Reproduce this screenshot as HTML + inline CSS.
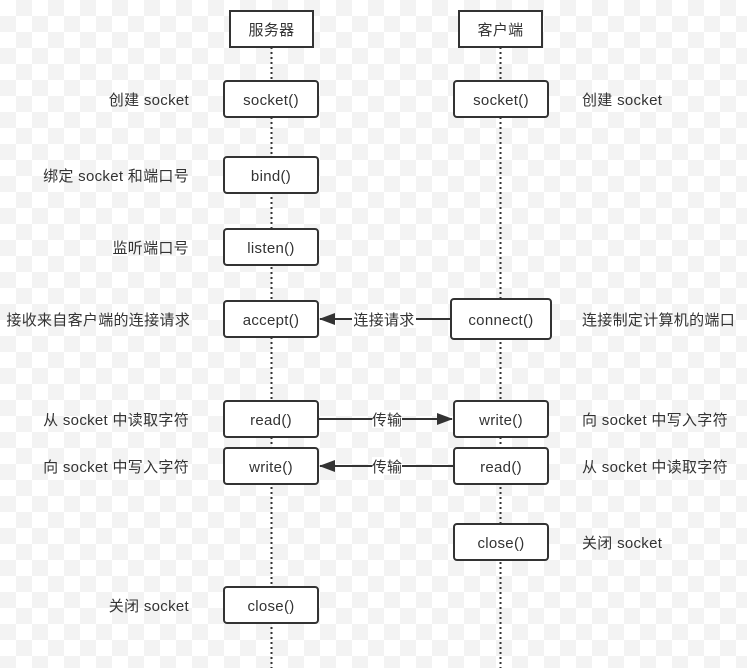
<!DOCTYPE html>
<html><head><meta charset="utf-8"><style>
html,body{margin:0;padding:0}
body{width:747px;height:668px;overflow:hidden;background-color:#fff;
background-image:linear-gradient(45deg,#f3f3f3 25%,transparent 25%,transparent 75%,#f3f3f3 75%),linear-gradient(45deg,#f3f3f3 25%,transparent 25%,transparent 75%,#f3f3f3 75%);
background-size:32px 32px;background-position:0 0,16px 16px;}
svg{position:absolute;left:0;top:0}
text{font-family:"Liberation Sans","Noto Sans CJK SC",sans-serif;font-size:15px;fill:#333;letter-spacing:0.3px}
</style></head><body>
<svg width="747" height="668" viewBox="0 0 747 668">
<defs><marker id="a" markerWidth="16" markerHeight="12" refX="15" refY="6" orient="auto" markerUnits="userSpaceOnUse"><path d="M0,0 L16,6 L0,12 Z" fill="#333"/></marker></defs>
<g stroke="#333" stroke-width="2" stroke-dasharray="2,3">
<line x1="271.5" y1="47" x2="271.5" y2="668"/>
<line x1="500.5" y1="47" x2="500.5" y2="668"/>
</g>
<g fill="#fff" stroke="#333" stroke-width="2">
<rect x="230" y="11" width="83" height="36"/>
<rect x="459" y="11" width="83" height="36"/>
<rect x="224" y="81" width="94" height="36" rx="3"/>
<rect x="454" y="81" width="94" height="36" rx="3"/>
<rect x="224" y="157" width="94" height="36" rx="3"/>
<rect x="224" y="229" width="94" height="36" rx="3"/>
<rect x="224" y="301" width="94" height="36" rx="3"/>
<rect x="451" y="299" width="100" height="40" rx="3"/>
<rect x="224" y="401" width="94" height="36" rx="3"/>
<rect x="454" y="401" width="94" height="36" rx="3"/>
<rect x="224" y="448" width="94" height="36" rx="3"/>
<rect x="454" y="448" width="94" height="36" rx="3"/>
<rect x="454" y="524" width="94" height="36" rx="3"/>
<rect x="224" y="587" width="94" height="36" rx="3"/>
</g>
<g stroke="#333" stroke-width="2">
<line x1="451" y1="319" x2="320" y2="319" marker-end="url(#a)"/>
<line x1="318" y1="419" x2="452" y2="419" marker-end="url(#a)"/>
<line x1="454" y1="466" x2="320" y2="466" marker-end="url(#a)"/>
</g>
<g fill="#fff">
<rect x="352" y="310" width="64" height="18"/>
<rect x="372" y="410" width="30" height="18"/>
<rect x="372" y="457" width="30" height="18"/>
</g>
<g text-anchor="middle">
<text x="271.5" y="35">服务器</text>
<text x="500.5" y="35">客户端</text>
<text x="271" y="105">socket()</text>
<text x="501" y="105">socket()</text>
<text x="271" y="181">bind()</text>
<text x="271" y="253">listen()</text>
<text x="271" y="325">accept()</text>
<text x="501" y="325">connect()</text>
<text x="271" y="425">read()</text>
<text x="501" y="425">write()</text>
<text x="271" y="472">write()</text>
<text x="501" y="472">read()</text>
<text x="501" y="548">close()</text>
<text x="271" y="611">close()</text>
<text x="384" y="325">连接请求</text>
<text x="387" y="425">传输</text>
<text x="387" y="472">传输</text>
</g>
<g text-anchor="end">
<text x="189" y="105">创建 socket</text>
<text x="189" y="181">绑定 socket 和端口号</text>
<text x="189" y="253">监听端口号</text>
<text x="190" y="325">接收来自客户端的连接请求</text>
<text x="189" y="425">从 socket 中读取字符</text>
<text x="189" y="472">向 socket 中写入字符</text>
<text x="189" y="611">关闭 socket</text>
</g>
<g>
<text x="582" y="105">创建 socket</text>
<text x="582" y="325">连接制定计算机的端口</text>
<text x="582" y="425">向 socket 中写入字符</text>
<text x="582" y="472">从 socket 中读取字符</text>
<text x="582" y="548">关闭 socket</text>
</g>
</svg>
</body></html>
